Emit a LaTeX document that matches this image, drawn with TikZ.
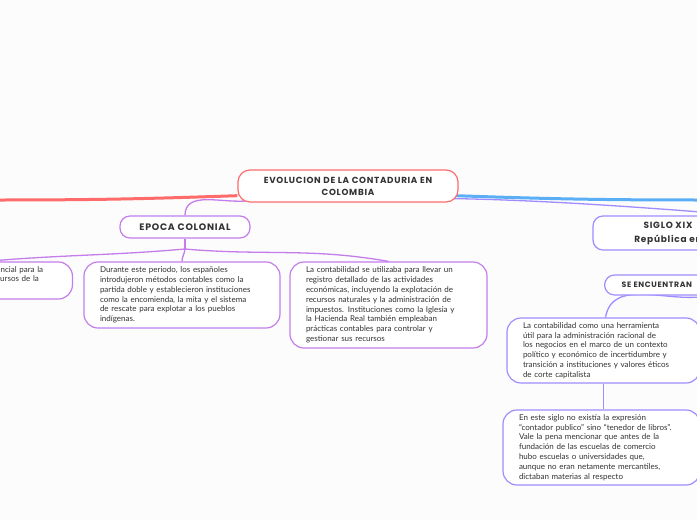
\documentclass[tikz,border=0pt]{standalone}
\usepackage{fontspec}
\setmainfont{Lato}
\newfontfamily\headfont[LetterSpace=8]{Poppins}
\usetikzlibrary{positioning, backgrounds}

\definecolor{inkgray}{HTML}{333333}
\definecolor{rootred}{HTML}{FF6B6B}
\definecolor{skyblue}{HTML}{5AAEF5}
\definecolor{lavender}{HTML}{A08CFF}
\definecolor{orchid}{HTML}{C47DEA}

\tikzset{
  topic/.style={draw=rootred, line width=1.2pt, fill=white, rounded corners=12pt,
    minimum width=220pt, minimum height=32pt, align=center, text=inkgray,
    font=\headfont\bfseries\fontsize{8.8}{12}\selectfont},
  branch/.style={draw=#1, line width=1.2pt, fill=white, rounded corners=10pt,
    align=center, text=inkgray, font=\headfont\bfseries\fontsize{9.4}{13}\selectfont},
  leaf/.style={draw=#1, line width=1.2pt, fill=white, rounded corners=14pt,
    align=left, text=inkgray, inner xsep=16pt, font=\fontsize{8}{9.8}\selectfont},
  link/.style={draw=#1, line width=1.3pt},
}

\begin{document}
\begin{tikzpicture}[x=1pt, y=-1pt]
\clip (0,0) rectangle (697,520);

\node[topic] (evol) at (348,186) {EVOLUCION DE LA CONTADURIA EN\\COLOMBIA};

% epoca colonial
\node[branch=orchid, minimum width=130pt, minimum height=22pt] (epoca) at (185,227) {EPOCA COLONIAL};
\node[leaf=orchid, text width=66pt, inner xsep=10pt, minimum height=37pt, anchor=east] (col1) at (73,280.5)
  {encial para la\\cursos de la\\\strut};
\node[leaf=orchid, text width=164pt, minimum height=66pt] (col2) at (182,295)
  {Durante este periodo, los españoles\\
   introdujeron métodos contables como la\\
   partida doble y establecieron instituciones\\
   como la encomienda, la mita y el sistema\\
   de rescate para explotar a los pueblos\\
   indígenas.};
\node[leaf=orchid, text width=165pt, minimum height=86pt] (col3) at (388.5,305)
  {La contabilidad se utilizaba para llevar un\\
   registro detallado de las actividades\\
   económicas, incluyendo la explotación de\\
   recursos naturales y la administración de\\
   impuestos. Instituciones como la Iglesia y\\
   la Hacienda Real también empleaban\\
   prácticas contables para controlar y\\
   gestionar sus recursos};

% siglo xix
\node[branch=lavender, minimum width=150pt, minimum height=34pt, font=\headfont\bfseries\fontsize{9}{14}\selectfont] (siglo) at (668,233)
  {SIGLO XIX\\República en};
\node[branch=lavender, inner xsep=17pt, minimum height=20pt, anchor=west, font=\headfont\bfseries\fontsize{7.8}{10}\selectfont] (encuentran) at (604,285)
  {SE ENCUENTRAN};
\node[leaf=lavender, text width=161pt, minimum height=65pt] (xix1) at (603.5,350.5)
  {La contabilidad como una herramienta\\
   útil para la administración racional de\\
   los negocios en el marco de un contexto\\
   político y económico de incertidumbre y\\
   transición a instituciones y valores éticos\\
   de corte capitalista};
\node[leaf=lavender, text width=165pt, minimum height=75pt] (xix2) at (601.5,447.5)
  {En este siglo no existía la expresión\\
   “contador publico” sino “tenedor de libros”.\\
   Vale la pena mencionar que antes de la\\
   fundación de las escuelas de comercio\\
   hubo escuelas o universidades que,\\
   aunque no eran netamente mercantiles,\\
   dictaban materias al respecto};

\coordinate (lft) at (-5,200);
\coordinate (rgt) at (705,200);
\coordinate (junc) at (185,249);

\begin{scope}[on background layer]
  \fill[white!98!gray] (0,0) rectangle (697,520);
  \draw[link=rootred, line width=3pt] (evol.185) to[out=182, in=0] (lft);
  \draw[link=skyblue, line width=3pt] ([xshift=-3pt]evol.-5) to[out=-2, in=180] (rgt);
  \draw[link=lavender] ([xshift=-6pt, yshift=4pt]evol.south east) .. controls (540,200) and (640,207) .. (siglo.north east);
  \draw[link=orchid] ([xshift=12pt, yshift=2pt]evol.south west) to[out=188, in=90] (epoca.north);
  \draw[link=orchid] (epoca.south) -- (junc);
  \draw[link=orchid] (junc) to[out=185, in=5] (col1.north west);
  \draw[link=orchid] (junc) to[out=-95, in=90] (col2.north);
  \draw[link=orchid] (junc) to[out=-5, in=170] (col3.north);
  \draw[link=lavender] (siglo.south east) -- (encuentran.north east);
  \draw[link=lavender] (encuentran.south east) to[out=192, in=80] ([xshift=2pt]xix1.north);
  \draw[link=lavender] (xix1.south) -- (xix1.south |- xix2.north);
\end{scope}
\end{tikzpicture}
\end{document}
